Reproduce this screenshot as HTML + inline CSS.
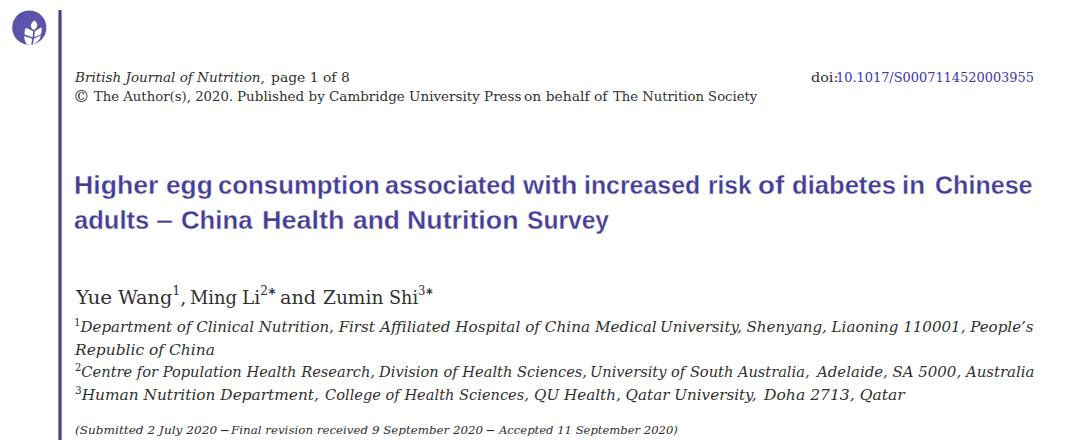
<!DOCTYPE html>
<html><head><meta charset="utf-8">
<style>
html,body{margin:0;padding:0;background:#fff;}
body{width:1080px;height:440px;position:relative;overflow:hidden;}
.ln{position:absolute;white-space:nowrap;color:#303030;font-family:"DejaVu Serif","Liberation Serif",serif;transform-origin:0 0;}
#bar{position:absolute;left:57px;top:9.5px;width:6px;height:431px;background:linear-gradient(to right,rgba(70,61,128,0.06) 0 1px,rgba(70,61,128,0.58) 1px 2px,rgba(70,61,128,0.96) 2px 3px,#463d80 3px 4px,rgba(72,62,140,0.55) 4px 5px,rgba(72,62,140,0.07) 5px 6px);}
#logo{position:absolute;left:0;top:0;}
.hd{font-size:13.6px;line-height:18px;}
.it{font-style:italic;}
.cp{font-size:17px;line-height:0;vertical-align:-1px;}
.doi{color:#3a36b8;}
.w{font-family:"Liberation Sans",sans-serif;font-weight:bold;color:#463d96;font-size:25.6px;line-height:34px;-webkit-text-stroke:0.3px #fff;paint-order:normal;}
.auth{font-size:19px;line-height:22px;}
.aff{font-size:15.4px;line-height:22px;font-style:italic;}
.aff sup{font-style:normal;font-size:10.5px;vertical-align:6px;line-height:0;}
.auth sup{font-size:12.5px;vertical-align:9px;line-height:0;}
.ast{font-family:"DejaVu Sans",sans-serif;font-weight:bold;font-size:14px;vertical-align:5.5px;line-height:0;margin-left:0.5px;}
.sub{font-size:11.9px;font-style:italic;line-height:16px;}
.nd{font-family:"Liberation Serif",serif;font-size:15px;line-height:0;font-weight:bold;}
</style></head><body>
<svg id="logo" width="60" height="60" viewBox="0 0 60 60">
  <circle cx="29.3" cy="27.6" r="17.1" fill="#5c54aa"/>
  <g fill="#fff">
    <path d="M34.4 20.6 C36.4 22 37.6 24 37.2 26.1 C36.8 28 35.3 29.3 33.7 30.1 C32.3 29.2 31.0 27.8 30.8 26 C30.7 24 32.3 21.9 34.4 20.6 Z"/>
    <path d="M26.0 27.7 L33.1 31.3 L32.6 37.3 L24.7 34.5 C24.2 32.3 24.7 29.5 26.0 27.7 Z"/>
    <path d="M41.4 27.2 L34.8 31.3 L34.3 37.2 L40.6 34.4 C41.6 32.4 41.8 29.6 41.4 27.2 Z"/>
    <path d="M24.3 35.9 L32.2 38.7 L31.2 45 L27.2 44.5 C25.2 42.2 24.1 39.2 24.3 35.9 Z"/>
    <path d="M40.7 35.5 L33.9 38.7 L32.9 44.6 C35.2 43.6 37.6 41.8 39.1 39.8 C40.1 38.4 40.6 37.1 40.7 35.5 Z"/>
  </g>
</svg>
<div id="bar"></div>
<div class="ln w" id="t1w0" style="left:74.43px;top:168px;transform:scaleX(1.0409)">Higher</div>
<div class="ln w" id="t1w1" style="left:166.10px;top:168px;transform:scaleX(1.0273)">egg</div>
<div class="ln w" id="t1w2" style="left:218.31px;top:168px;transform:scaleX(1.0068)">consumption</div>
<div class="ln w" id="t1w3" style="left:384.72px;top:168px;transform:scaleX(0.9878)">associated</div>
<div class="ln w" id="t1w4" style="left:523.17px;top:168px;transform:scaleX(1.0621)">with</div>
<div class="ln w" id="t1w5" style="left:583.97px;top:168px;transform:scaleX(0.9720)">increased</div>
<div class="ln w" id="t1w6" style="left:708.28px;top:168px;transform:scaleX(0.9568)">risk</div>
<div class="ln w" id="t1w7" style="left:758.10px;top:168px;transform:scaleX(1.0838)">of</div>
<div class="ln w" id="t1w8" style="left:792.39px;top:168px;transform:scaleX(1.0003)">diabetes</div>
<div class="ln w" id="t1w9" style="left:902.38px;top:168px;transform:scaleX(1.0129)">in</div>
<div class="ln w" id="t1w10" style="left:935.17px;top:168px;transform:scaleX(0.9795)">Chinese</div>
<div class="ln w" id="t2w0" style="left:74.17px;top:203px;transform:scaleX(0.9975)">adults</div>
<div class="ln w" id="t2w1" style="left:156.46px;top:203px;transform:scaleX(1.1907)">–</div>
<div class="ln w" id="t2w2" style="left:181.41px;top:203px;transform:scaleX(1.0059)">China</div>
<div class="ln w" id="t2w3" style="left:262.19px;top:203px;transform:scaleX(1.0539)">Health</div>
<div class="ln w" id="t2w4" style="left:352.51px;top:203px;transform:scaleX(1.0298)">and</div>
<div class="ln w" id="t2w5" style="left:406.86px;top:203px;transform:scaleX(1.0457)">Nutrition</div>
<div class="ln w" id="t2w6" style="left:526.53px;top:203px;transform:scaleX(0.9610)">Survey</div>
<div class="ln hd" id="h1a" style="left:74.96px;top:68px;transform:scaleX(0.9955)"><span class="it">British Journal of Nutrition,</span></div>
<div class="ln hd" id="h1b" style="left:271.34px;top:68px;transform:scaleX(1.0223)">page 1 of 8</div>
<div class="ln hd" id="doia" style="left:810.55px;top:68px;transform:scaleX(1.0580)">doi:</div>
<div class="ln hd" id="doib" style="left:836.03px;top:68px;transform:scaleX(0.9494)"><span class="doi">10.1017/S0007114520003955</span></div>
<div class="ln hd" id="h2a" style="left:72.63px;top:87px;transform:scaleX(0.9755)"><span class="cp">©</span> The Author(s), 2020.</div>
<div class="ln hd" id="h2b" style="left:236.61px;top:87px;transform:scaleX(0.9919)">Published by Cambridge University Press</div>
<div class="ln hd" id="h2c" style="left:524.25px;top:87px;transform:scaleX(1.0203)">on behalf of</div>
<div class="ln hd" id="h2d" style="left:613.41px;top:87px;transform:scaleX(0.9685)">The Nutrition Society</div>
<div class="ln auth" id="au0" style="left:76.00px;top:285.5px;transform:scaleX(1.0528)">Yue</div>
<div class="ln auth" id="au1" style="left:117.84px;top:285.5px;transform:scaleX(1.0124)">Wang<sup>1</sup>,</div>
<div class="ln auth" id="au2" style="left:190.29px;top:285.5px;transform:scaleX(0.9391)">Ming</div>
<div class="ln auth" id="au3" style="left:242.37px;top:285.5px;transform:scaleX(0.9738)">Li<sup>2</sup><span class="ast">*</span></div>
<div class="ln auth" id="au4" style="left:280.21px;top:285.5px;transform:scaleX(1.0094)">and</div>
<div class="ln auth" id="au5" style="left:322.56px;top:285.5px;transform:scaleX(0.9770)">Zumin</div>
<div class="ln auth" id="au6" style="left:389.47px;top:285.5px;transform:scaleX(0.9267)">Shi<sup>3</sup><span class="ast">*</span></div>
<div class="ln aff" id="a1a" style="left:74.01px;top:316px;transform:scaleX(0.9757)"><sup>1</sup>Department of Clinical Nutrition, First</div>
<div class="ln aff" id="a1b" style="left:380.37px;top:316px;transform:scaleX(0.9906)">Affiliated Hospital of China Medical</div>
<div class="ln aff" id="a1c" style="left:659.51px;top:316px;transform:scaleX(0.9789)">University, Shenyang, Liaoning 110001, People’s</div>
<div class="ln aff" id="a1d" style="left:74.51px;top:339px;transform:scaleX(1.0050)">Republic of China</div>
<div class="ln aff" id="a2a" style="left:74.55px;top:361px;transform:scaleX(0.9507)"><sup>2</sup>Centre for Population Health Research,</div>
<div class="ln aff" id="a2b" style="left:378.52px;top:361px;transform:scaleX(0.9503)">Division of Health Sciences,</div>
<div class="ln aff" id="a2c" style="left:590.32px;top:361px;transform:scaleX(0.9475)">University of South Australia,</div>
<div class="ln aff" id="a2d" style="left:816.84px;top:361px;transform:scaleX(0.9709)">Adelaide, SA 5000, Australia</div>
<div class="ln aff" id="a3a" style="left:75.12px;top:383.5px;transform:scaleX(0.9982)"><sup>3</sup>Human Nutrition Department,</div>
<div class="ln aff" id="a3b" style="left:324.72px;top:383.5px;transform:scaleX(0.9485)">College of Health Sciences,</div>
<div class="ln aff" id="a3c" style="left:534.21px;top:383.5px;transform:scaleX(0.9848)">QU Health, Qatar University,</div>
<div class="ln aff" id="a3d" style="left:763.51px;top:383.5px;transform:scaleX(1.0121)">Doha 2713, Qatar</div>
<div class="ln sub" id="sba" style="left:75.15px;top:422px;transform:scaleX(1.0189)">(Submitted 2 July 2020 <span class="nd">–</span></div>
<div class="ln sub" id="sbb" style="left:231.25px;top:422px;transform:scaleX(0.9959)">Final revision received 9 September 2020 <span class="nd">–</span></div>
<div class="ln sub" id="sbc" style="left:499.13px;top:422px;transform:scaleX(0.9742)">Accepted 11 September 2020)</div>
</body></html>
